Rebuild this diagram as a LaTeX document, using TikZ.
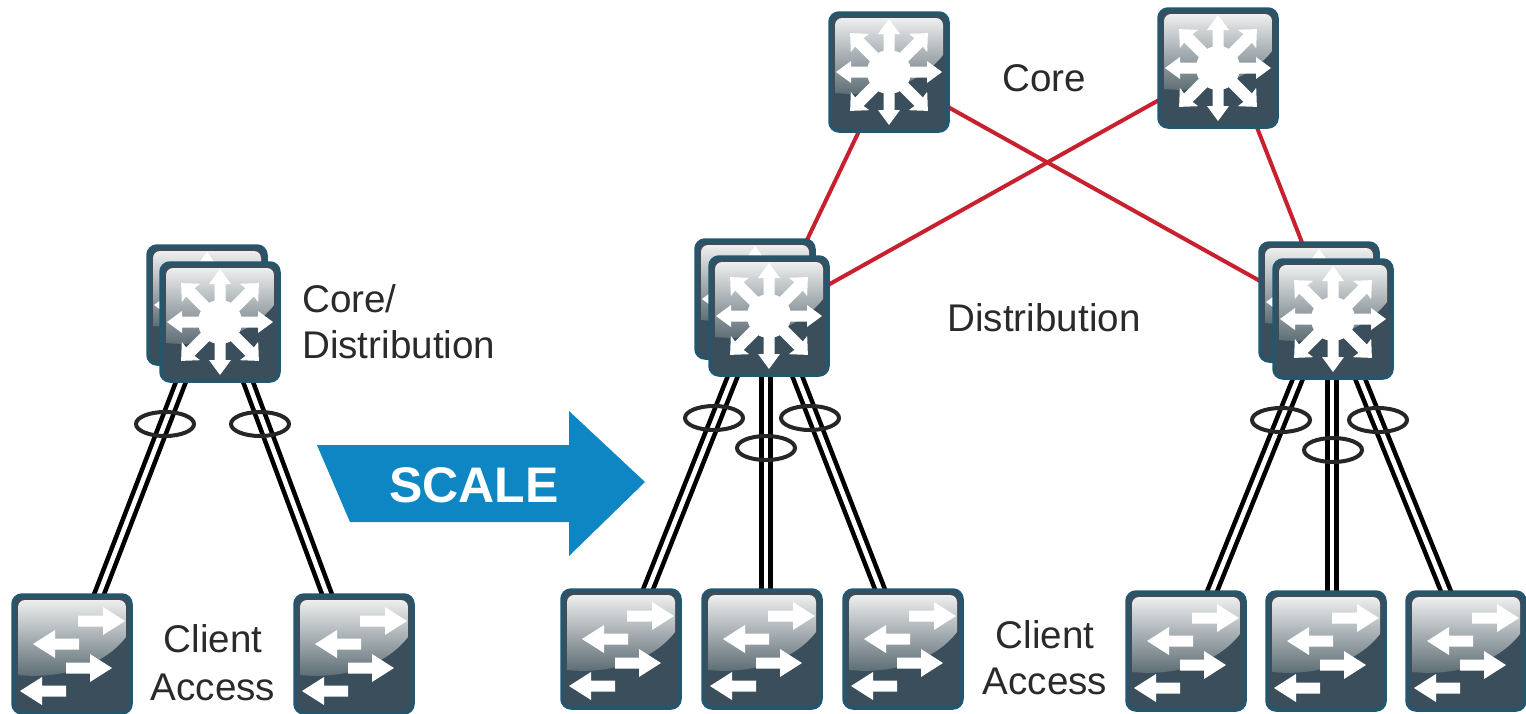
\documentclass[tikz,border=0pt]{standalone}
\usepackage{fontspec}
\setmainfont{Liberation Sans}
\usetikzlibrary{calc,shapes.geometric}
\definecolor{iconedge}{HTML}{24566E}
\definecolor{icondark}{HTML}{3A4E5B}
\definecolor{iconmid}{HTML}{56676F}
\definecolor{iconhalf}{HTML}{8A959B}
\definecolor{iconlight}{HTML}{EEEEEE}
\definecolor{redlink}{HTML}{C8202F}
\definecolor{scaleblue}{HTML}{0E86C4}
\definecolor{labelink}{HTML}{2A2A2A}
\pgfdeclarelayer{bg}
\pgfsetlayers{bg,main}
\tikzset{
  iconbox/.style={draw=iconedge,line width=3.5pt,fill=icondark,rounded corners=9pt,minimum size=118pt,inner sep=0pt,outer sep=0pt},
  gloss/.style={top color=iconlight,middle color=iconhalf,bottom color=iconmid,draw=none},
  glyph/.style={fill=white,draw=none},
  redline/.style={draw=redlink,line width=4pt},
  dbl/.style={draw=black,double=white,line width=4.6pt,double distance=4.6pt},
  lag/.style={ellipse,draw=black!85,line width=4pt,minimum width=58pt,minimum height=24pt,inner sep=0pt},
  lbl/.style={text=labelink,font=\fontsize{38.6}{38.6}\selectfont,inner sep=0pt}
}
\newcommand{\arrowglyph}[1]{%
  \begin{scope}[rotate=#1]
    \fill[glyph] (0,-5.5) -- (38,-5.5) -- (38,-11) -- (53,0) -- (38,11) -- (38,5.5) -- (0,5.5) -- cycle;
  \end{scope}}
\newcommand{\diagglyph}[1]{%
  \begin{scope}[rotate=#1]
    \fill[glyph] (0,-6) -- (42,-6) -- (41,-13) -- (55,0) -- (41,13) -- (42,6) -- (0,6) -- cycle;
  \end{scope}}
\newcommand{\glossshape}{%
  \shade[gloss] (-54,21) [rounded corners=7pt] -- (-54,-54) -- (54,-54) [sharp corners] -- (54,-17) .. controls (35,8) and (-5,26) .. (-54,21) -- cycle;}
\newcommand{\layerthree}[3]{%
  \node[iconbox] (#1) at (#2,#3) {};
  \begin{scope}[shift={(#2,#3)}]
    \glossshape
    \foreach \a in {0,90,180,270} {\arrowglyph{\a}}
    \foreach \a in {45,135,225,315} {\diagglyph{\a}}
    \fill[glyph] (0,0) circle[radius=22pt];
  \end{scope}}
\newcommand{\layertwo}[3]{%
  \node[iconbox] (#1) at (#2,#3) {};
  \begin{scope}[shift={(#2,#3)}]
    \glossshape
    \fill[glyph] (6,-38.5) -- (31,-38.5) -- (31,-47) -- (53,-33) -- (31,-19) -- (31,-27.5) -- (6,-27.5) -- cycle;
    \fill[glyph] (7,-15.5) -- (-17,-15.5) -- (-17,-24) -- (-39,-10) -- (-17,4) -- (-17,-4.5) -- (7,-4.5) -- cycle;
    \fill[glyph] (-6,8.5) -- (18,8.5) -- (18,0) -- (40,14) -- (18,28) -- (18,19.5) -- (-6,19.5) -- cycle;
    \fill[glyph] (-6,31.5) -- (-30,31.5) -- (-30,23) -- (-52,37) -- (-30,51) -- (-30,42.5) -- (-6,42.5) -- cycle;
  \end{scope}}
\begin{document}
\begin{tikzpicture}[x=1pt,y=-1pt]
\useasboundingbox (0,0) rectangle (1526,713);
% icons
\layerthree{ldback}{207}{305}
\layerthree{ldfront}{220}{322}
\layertwo{lsa}{72}{654}
\layertwo{lsb}{354}{654}
\layerthree{corea}{889}{72}
\layerthree{coreb}{1218}{68}
\layerthree{daback}{755}{299}
\layerthree{dafront}{769}{316}
\layerthree{dbback}{1319}{302}
\layerthree{dbfront}{1333}{319}
\layertwo{sa}{621}{649}
\layertwo{sb}{762}{649}
\layertwo{sc}{903}{649}
\layertwo{sd}{1186}{651}
\layertwo{se}{1326}{651}
\layertwo{sf}{1466}{651}
% connectors
\begin{pgfonlayer}{bg}
  \draw[redline] ($(corea.south)+(-29,-2)$) -- ($(daback.north)+(51,2)$);
  \draw[redline] ($(corea.east)+(0,35)$) -- ($(dbback.west)+(0,-21)$);
  \draw[redline] ($(coreb.west)+(0,32)$) -- ($(dafront.east)+(0,-31)$);
  \draw[redline] ($(coreb.south)+(38,-2)$) -- ($(dbback.north)+(-16,2)$);
  \draw[dbl] ($(ldfront.south)+(-38,-2)$) -- ($(lsa.north)+(26,2)$);
  \draw[dbl] ($(ldfront.south)+(27,-2)$) -- ($(lsb.north)+(-26,2)$);
  \draw[dbl] ($(dafront.south)+(-35,-2)$) -- ($(sa.north)+(26,2)$);
  \draw[dbl] ($(dafront.south)+(-3,-2)$) -- ($(sb.north)+(4,2)$);
  \draw[dbl] ($(dafront.south)+(27,-2)$) -- ($(sc.north)+(-22,2)$);
  \draw[dbl] ($(dbfront.south)+(-34,-2)$) -- ($(sd.north)+(25,2)$);
  \draw[dbl] ($(dbfront.south)+(-1,-2)$) -- ($(se.north)+(6,2)$);
  \draw[dbl] ($(dbfront.south)+(26,-2)$) -- ($(sf.north)+(-19,2)$);
\end{pgfonlayer}
% bundle rings
\node[lag] (ra) at (165,424) {};
\node[lag] (rb) at (260,424) {};
\node[lag] (rc) at (714,418) {};
\node[lag] (rd) at (766,448) {};
\node[lag] (re) at (810,418) {};
\node[lag] (rf) at (1281,420) {};
\node[lag] (rg) at (1333,450) {};
\node[lag] (rh) at (1378,420) {};
% scale arrow
\fill[scaleblue] (317,445) -- (569,445) -- (569,411) -- (645,482) -- (569,556) -- (569,522) -- (350,522) -- cycle;
\node[text=white,font=\fontsize{50}{50}\selectfont\bfseries,inner sep=0pt] (scale) at (474,485) {SCALE};
% labels
\node[lbl,anchor=west] (t1) at (302,299) {Core/};
\node[lbl,anchor=west] (t2) at (302,345) {Distribution};
\node[lbl] (t3) at (213,639) {Client};
\node[lbl] (t4) at (213,687) {Access};
\node[lbl] (t5) at (1044,78) {Core};
\node[lbl] (t6) at (1044,318) {Distribution};
\node[lbl] (t7) at (1045,635) {Client};
\node[lbl] (t8) at (1045,681) {Access};
\end{tikzpicture}
\end{document}
